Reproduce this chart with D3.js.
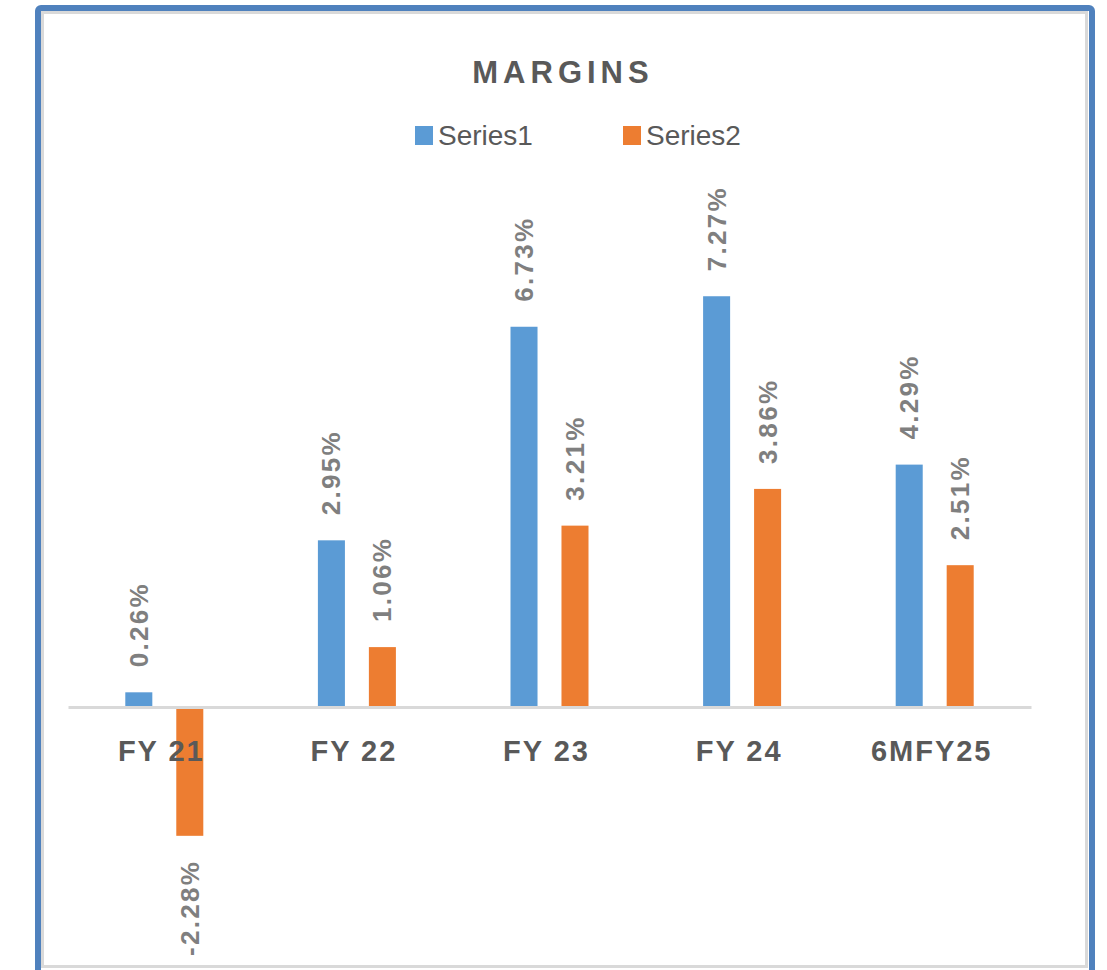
<!DOCTYPE html>
<html>
<head>
<meta charset="utf-8">
<title>Margins</title>
<script src="https://d3js.org/d3.v7.min.js"></script>
<style>
  body { margin: 0; background: #ffffff; }
  text { font-family: "Liberation Sans", Arial, sans-serif; }
</style>
</head>
<body>
<script>
// data
var categories = ["FY 21", "FY 22", "FY 23", "FY 24", "6MFY25"];
var seriesNames = ["Series1", "Series2"];
var series1 = [0.26, 2.95, 6.73, 7.27, 4.29];
var series2 = [-2.28, 1.06, 3.21, 3.86, 2.51];
var colors = ["#5b9bd5", "#ed7d31"];

var W = 1107, H = 970;
var txt = "#595959";

var svg = d3.select("body").append("svg")
  .attr("width", W)
  .attr("height", H);

// frame
svg.append("rect")
  .attr("x", 38).attr("y", 8)
  .attr("width", 1054).attr("height", 1000)
  .attr("rx", 3)
  .attr("fill", "#ffffff")
  .attr("stroke", "#4f81bd")
  .attr("stroke-width", 6);
svg.append("rect")
  .attr("x", 42.5).attr("y", 12.5)
  .attr("width", 1044).attr("height", 954)
  .attr("fill", "none")
  .attr("stroke", "#d9d9d9")
  .attr("stroke-width", 3);

// scales
var x0 = d3.scaleBand().domain(categories).range([68, 1031]).paddingInner(0);
var x1 = d3.scaleBand().domain(seriesNames).range([0, 78]).paddingInner(0.47);
var y = d3.scaleLinear().domain([-4, 8]).range([933, 255]);

var rows = categories.map(function(c, i) {
  return { cat: c, vals: [series1[i], series2[i]] };
});

// bars
var groups = svg.selectAll("g.cat")
  .data(rows)
  .enter().append("g")
  .attr("class", "cat")
  .attr("transform", function(d) {
    return "translate(" + (x0(d.cat) + x0.bandwidth() / 2 - 39) + ",0)";
  });

groups.selectAll("rect")
  .data(function(d) { return d.vals.map(function(v, j) { return { s: seriesNames[j], v: v, j: j }; }); })
  .enter().append("rect")
  .attr("x", function(d) { return x1(d.s); })
  .attr("y", function(d) { return y(Math.max(0, d.v)); })
  .attr("width", x1.bandwidth())
  .attr("height", function(d) { return Math.abs(y(d.v) - y(0)); })
  .attr("fill", function(d) { return colors[d.j]; });

// value labels (rotated)
groups.selectAll("text.val")
  .data(function(d) { return d.vals.map(function(v, j) { return { s: seriesNames[j], v: v, j: j }; }); })
  .enter().append("text")
  .attr("class", "val")
  .attr("transform", function(d) {
    var cx = x1(d.s) + x1.bandwidth() / 2;
    var yy = d.v >= 0 ? y(d.v) - 25 : y(d.v) + 24;
    return "translate(" + (cx + 9) + "," + yy + ") rotate(-90)";
  })
  .attr("text-anchor", function(d) { return d.v >= 0 ? "start" : "end"; })
  .attr("font-size", 26)
  .attr("font-weight", "bold")
  .attr("letter-spacing", 2.3)
  .attr("fill", "#7f7f7f")
  .text(function(d) { return d.v.toFixed(2) + "%"; });

// zero axis
var xAxis = svg.append("g")
  .attr("transform", "translate(0," + y(0) + ")")
  .call(d3.axisBottom(x0).tickSize(0).tickPadding(0));
xAxis.select(".domain").attr("stroke", "#d9d9d9").attr("stroke-width", 3);
xAxis.selectAll(".tick text")
  .attr("dy", 0)
  .attr("y", 54)
  .attr("dx", -3)
  .attr("font-family", "'Liberation Sans', Arial, sans-serif")
  .attr("font-size", 29)
  .attr("font-weight", "bold")
  .attr("letter-spacing", 2)
  .attr("fill", txt);

// title
svg.append("text")
  .attr("x", 563).attr("y", 83)
  .attr("text-anchor", "middle")
  .attr("font-size", 31)
  .attr("font-weight", "bold")
  .attr("letter-spacing", 5)
  .attr("fill", txt)
  .text("MARGINS");

// legend
var legX = [415, 623];
var leg = svg.selectAll("g.leg")
  .data(seriesNames)
  .enter().append("g")
  .attr("class", "leg")
  .attr("transform", function(d, i) { return "translate(" + legX[i] + ",126)"; });
leg.append("rect")
  .attr("width", 18).attr("height", 19)
  .attr("fill", function(d, i) { return colors[i]; });
leg.append("text")
  .attr("x", 23).attr("y", 19)
  .attr("font-size", 28)
  .attr("fill", txt)
  .text(function(d) { return d; });
</script>
</body>
</html>
